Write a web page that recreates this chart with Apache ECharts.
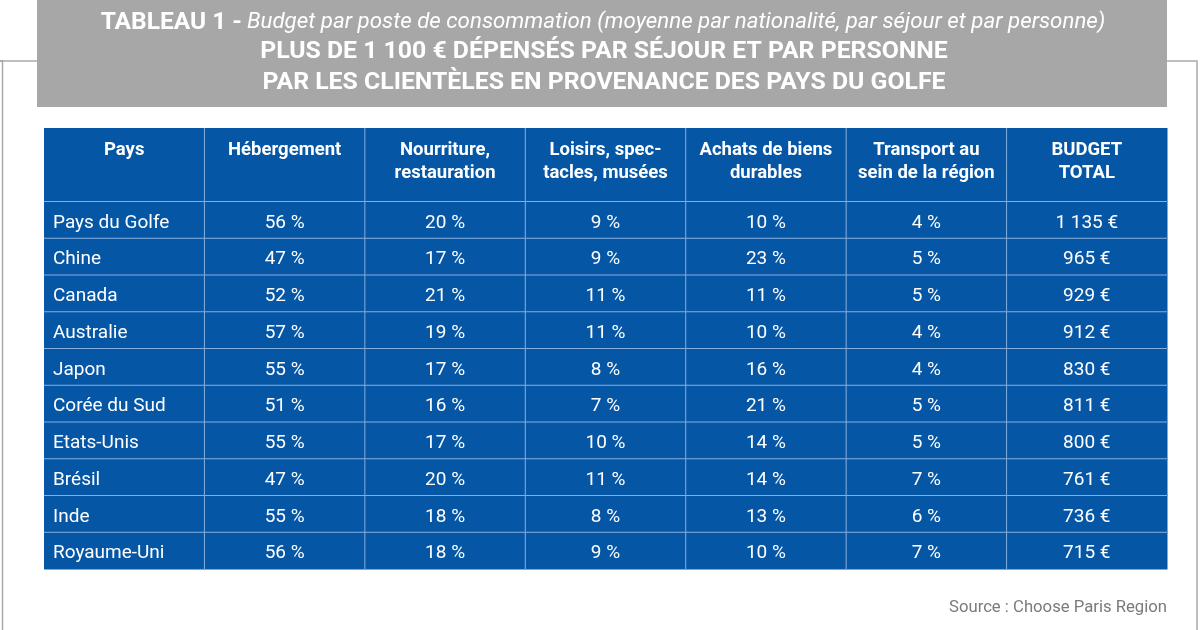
<!DOCTYPE html>
<html><head><meta charset="utf-8">
<script src="https://cdn.jsdelivr.net/npm/echarts@6/dist/echarts.min.js"></script>
<style>html,body{margin:0;padding:0;background:#fff}#c{width:1200px;height:630px}</style>
</head><body><div id="c"></div>
<script>
const columns = ['Pays','Hébergement','Nourriture,\nrestauration','Loisirs, spec-\ntacles, musées','Achats de biens\ndurables','Transport au\nsein de la région','BUDGET\nTOTAL'];
const countries = ['Pays du Golfe','Chine','Canada','Australie','Japon','Corée du Sud','Etats-Unis','Brésil','Inde','Royaume-Uni'];
const hebergement = [56,47,52,57,55,51,55,47,55,56];
const nourriture = [20,17,21,19,17,16,17,20,18,18];
const loisirs = [9,9,11,11,8,7,10,11,8,9];
const achats = [10,23,11,10,16,21,14,14,13,10];
const transport = [4,5,5,4,4,5,5,7,6,7];
const budget = [1135,965,929,912,830,811,800,761,736,715];

const FONT = 'Roboto';
const BLUE = '#0656a6';
const LINE = '#86aede';
const fmtPct = v => v + ' %';
const fmtEur = v => (v >= 1000 ? Math.floor(v/1000) + ' ' + String(v%1000).padStart(3,'0') : String(v)) + ' €';

const HEADER_UNITS = 2;
const cells = [];
columns.forEach((t, c) => cells.push({value:[c, 0, HEADER_UNITS], text:t, header:true}));
const numCols = [hebergement, nourriture, loisirs, achats, transport];
countries.forEach((name, i) => {
  const r0 = HEADER_UNITS + i, r1 = r0 + 1;
  cells.push({value:[0, r0, r1], text:name, left:true});
  numCols.forEach((arr, k) => cells.push({value:[k+1, r0, r1], text:fmtPct(arr[i])}));
  cells.push({value:[6, r0, r1], text:fmtEur(budget[i])});
});
const totalRows = HEADER_UNITS + countries.length;

const chart = echarts.init(document.getElementById('c'), null, {renderer:'canvas'});
chart.setOption({
  backgroundColor:'#fff',
  animation:false,
  title:[
    {text:'{b|TABLEAU 1 -} {i|Budget par poste de consommation (moyenne par nationalité, par séjour et par personne)}',
     left:598, textAlign:'center', top:5,
     textStyle:{rich:{
       b:{fontFamily:FONT, fontWeight:'bold', fontSize:24.5, color:'#fff'},
       i:{fontFamily:FONT, fontStyle:'italic', fontWeight:'normal', fontSize:22.3, color:'#fff'}
     }}},
    {text:'PLUS DE 1 100 € DÉPENSÉS PAR SÉJOUR ET PAR PERSONNE\nPAR LES CLIENTÈLES EN PROVENANCE DES PAYS DU GOLFE',
     left:599, textAlign:'center', top:31,
     textStyle:{fontFamily:FONT, fontWeight:'bold', fontSize:24.8, lineHeight:31, color:'#fff'}},
    {text:'Source : Choose Paris Region', right:28, top:594,
     textStyle:{fontFamily:FONT, fontWeight:'normal', fontSize:16.7, color:'#7a7a7a'}}
  ],
  graphic:[
    {type:'polyline', z:-1, shape:{points:[[0,61],[2.5,61],[2.5,630]]}, style:{stroke:'#aaaaa4', lineWidth:1.5, fill:null}},
    {type:'line', z:-1, shape:{x1:0,y1:61,x2:40,y2:61}, style:{stroke:'#aaaaa4', lineWidth:1.5}},
    {type:'polyline', z:-1, shape:{points:[[1160,61],[1197,61],[1197,630]]}, style:{stroke:'#aaaaa4', lineWidth:1.5, fill:null}},
    {type:'rect', z:0, shape:{x:37,y:0,width:1130,height:107}, style:{fill:'#a7a7a7'}}
  ],
  grid:{left:44, right:33, top:128, bottom:61},
  xAxis:{type:'value', min:0, max:columns.length, show:false},
  yAxis:{type:'value', min:0, max:totalRows, inverse:true, show:false},
  series:[{
    type:'custom',
    data:cells,
    renderItem:(params, api) => {
      const c = api.value(0), r0 = api.value(1), r1 = api.value(2);
      const p0 = api.coord([c, r0]), p1 = api.coord([c+1, r1]);
      const it = cells[params.dataIndex];
      const x = p0[0], y = p0[1], w = p1[0]-p0[0], h = p1[1]-p0[1];
      const children = [
        {type:'rect', shape:{x:x, y:y, width:w+0.5, height:h+0.5}, style:{fill:BLUE}}
      ];
      if (c < columns.length-1) children.push({type:'line', z2:5, shape:{x1:x+w, y1:y, x2:x+w, y2:y+h}, style:{stroke:LINE, lineWidth:1}});
      if (r1 < totalRows) children.push({type:'line', z2:5, shape:{x1:x, y1:y+h, x2:x+w, y2:y+h}, style:{stroke:LINE, lineWidth:1}});
      if (it.header) {
        children.push({type:'text', z2:10, x:x+w/2, y:y+11, style:{text:it.text, fill:'#fff', align:'center', verticalAlign:'top', font:'bold 18.5px '+FONT, lineHeight:23}});
      } else {
        children.push({type:'text', z2:10, x: it.left ? x+9 : x+w/2, y:y+h/2+3, style:{text:it.text, fill:'#fff', align: it.left?'left':'center', verticalAlign:'middle', font:'19px '+FONT}});
      }
      return {type:'group', children:children};
    }
  }]
});
</script></body></html>
